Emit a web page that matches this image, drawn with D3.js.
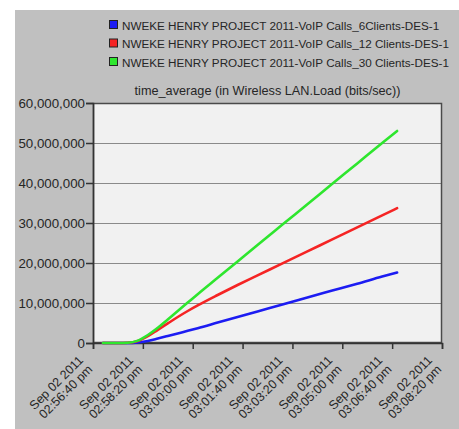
<!DOCTYPE html>
<html>
<head>
<meta charset="utf-8">
<script src="https://cdn.jsdelivr.net/npm/d3@7"></script>
<style>
  html, body { margin: 0; padding: 0; background: #ffffff; }
  svg { display: block; }
  text { font-family: "Liberation Sans", Arial, sans-serif; fill: #262626; }
</style>
</head>
<body>
<svg id="chart" width="459" height="429"></svg>
<script>
// ---- data ----
const seriesNames = [
  "NWEKE HENRY PROJECT 2011-VoIP Calls_6Clients-DES-1",
  "NWEKE HENRY PROJECT 2011-VoIP Calls_12 Clients-DES-1",
  "NWEKE HENRY PROJECT 2011-VoIP Calls_30 Clients-DES-1"
];
const seriesColors = ["#1c1cf2", "#f52424", "#2ee62e"];
// elapsed seconds after Sep 02 2011 02:56:40 pm
const elapsedSec = [20, 50, 70, 90, 110, 130, 150, 170, 190, 210, 250, 290, 330, 380, 430, 480, 530, 580, 610];
const blue6   = [0, 0, 0, 0.15e6, 0.5e6, 1.1e6, 1.75e6, 2.4e6, 3.05e6, 3.7e6, 5.1e6, 6.5e6, 7.9e6, 9.6e6, 11.4e6, 13.1e6, 14.8e6, 16.6e6, 17.6e6];
const red12   = [0, 0, 0.05e6, 0.5e6, 1.7e6, 3.3e6, 4.9e6, 6.5e6, 8.0e6, 9.4e6, 12.0e6, 14.5e6, 16.9e6, 19.9e6, 22.9e6, 25.9e6, 28.9e6, 31.9e6, 33.7e6];
const green30 = [0, 0, 0.05e6, 0.6e6, 2.0e6, 3.8e6, 5.9e6, 8.0e6, 10.1e6, 12.2e6, 16.3e6, 20.4e6, 24.5e6, 29.6e6, 34.7e6, 39.8e6, 44.9e6, 50.0e6, 53.0e6];
const yTicks = [0, 10e6, 20e6, 30e6, 40e6, 50e6, 60e6];
const xTickSec = [0, 100, 200, 300, 400, 500, 600, 700];
const xTickLabels = [
  ["Sep 02 2011", "02:56:40 pm"],
  ["Sep 02 2011", "02:58:20 pm"],
  ["Sep 02 2011", "03:00:00 pm"],
  ["Sep 02 2011", "03:01:40 pm"],
  ["Sep 02 2011", "03:03:20 pm"],
  ["Sep 02 2011", "03:05:00 pm"],
  ["Sep 02 2011", "03:06:40 pm"],
  ["Sep 02 2011", "03:08:20 pm"]
];
const chartTitle = "time_average (in Wireless LAN.Load (bits/sec))";

// ---- layout ----
const startTime = new Date(2011, 8, 2, 14, 56, 40);
const toDate = s => new Date(startTime.getTime() + s * 1000);
const plot = { left: 93, top: 103, right: 442, bottom: 343 };

const svg = d3.select("#chart");
svg.append("rect").attr("x", 15).attr("y", 10).attr("width", 444).attr("height", 419).attr("fill", "#c0c0c0");

const x = d3.scaleTime().domain([toDate(0), toDate(700)]).range([plot.left, plot.right]);
const y = d3.scaleLinear().domain([0, 60e6]).range([plot.bottom, plot.top]);

// plot background
svg.append("rect")
  .attr("x", plot.left).attr("y", plot.top)
  .attr("width", plot.right - plot.left).attr("height", plot.bottom - plot.top)
  .attr("fill", "#f1f1f1");

// gridlines
svg.append("g").selectAll("line").data(yTicks.slice(1, -1)).join("line")
  .attr("x1", plot.left).attr("x2", plot.right)
  .attr("y1", d => Math.round(y(d)) + 0.5).attr("y2", d => Math.round(y(d)) + 0.5)
  .attr("stroke", "#8a8a8a").attr("stroke-width", 1.2);

// frame
svg.append("rect")
  .attr("x", plot.left + 0.5).attr("y", plot.top + 0.5)
  .attr("width", plot.right - plot.left - 1).attr("height", plot.bottom - plot.top - 1)
  .attr("fill", "none").attr("stroke", "#4a4a4a").attr("stroke-width", 1.5);

// y axis
const yAxis = d3.axisLeft(y).tickValues(yTicks).tickSize(7).tickPadding(1)
  .tickFormat(d => d3.format(",")(d));
const gy = svg.append("g").attr("transform", `translate(${plot.left},0)`).call(yAxis);
gy.select(".domain").attr("stroke", "#333").attr("stroke-width", 1.5);
gy.selectAll(".tick line").attr("stroke", "#333").attr("stroke-width", 1.5);
gy.selectAll(".tick text").attr("font-size", "13.3px").attr("fill", "#222")
  .attr("font-family", "'Liberation Sans', Arial, sans-serif");

// x axis
const xAxis = d3.axisBottom(x).tickValues(xTickSec.map(toDate)).tickSize(6).tickFormat("");
const gx = svg.append("g").attr("transform", `translate(0,${plot.bottom})`).call(xAxis);
gx.select(".domain").attr("stroke", "#333").attr("stroke-width", 1.5);
gx.selectAll(".tick line").attr("stroke", "#333").attr("stroke-width", 1.5);

// rotated x labels
const xl = svg.append("g").selectAll("g").data(xTickSec).join("g")
  .attr("transform", (d) => `translate(${x(toDate(d)) - 9},${361}) rotate(-45)`);
xl.each(function(d, i) {
  const g = d3.select(this);
  xTickLabels[i].forEach((line, j) => {
    g.append("text").attr("x", 0).attr("y", j * 13)
      .attr("text-anchor", "end").attr("font-size", "12.5px").attr("fill", "#333").text(line);
  });
});

// lines
const seriesValues = [blue6, red12, green30];
const lineGen = d3.line().x(d => x(toDate(d[0]))).y(d => y(d[1])).curve(d3.curveMonotoneX);
seriesValues.forEach((vals, i) => {
  const pts = elapsedSec.map((s, k) => [s, vals[k]]);
  svg.append("path").datum(pts)
    .attr("d", lineGen)
    .attr("fill", "none")
    .attr("stroke", seriesColors[i])
    .attr("stroke-width", 2.6)
    .attr("stroke-linecap", "round");
});

// title
svg.append("text").attr("x", (plot.left + plot.right) / 2).attr("y", 95)
  .attr("text-anchor", "middle").attr("font-size", "12.7px").text(chartTitle);

// legend
const legendY = [25, 43.5, 62];
seriesNames.forEach((name, i) => {
  svg.append("rect").attr("x", 109.5).attr("y", legendY[i] - 4.5)
    .attr("width", 8).attr("height", 8)
    .attr("fill", seriesColors[i]).attr("stroke", "#222").attr("stroke-width", 1);
  svg.append("text").attr("x", 122).attr("y", legendY[i] + 4.5)
    .attr("font-size", "11.7px").text(name);
});
</script>
</body>
</html>
